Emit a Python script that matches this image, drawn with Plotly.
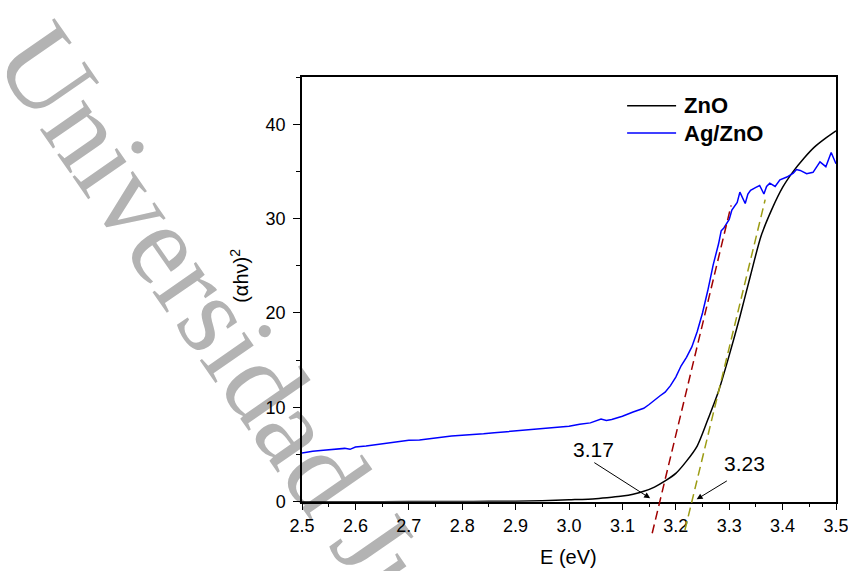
import plotly.graph_objects as go

# ---------------------------------------------------------------- data
# Photon energy (eV) and (alpha*h*nu)^2 for pure ZnO
E_ZNO = [2.50, 2.60, 2.70, 2.80, 2.85, 2.90, 2.95, 3.00, 3.05, 3.08, 3.10,
         3.12, 3.14, 3.16, 3.18, 3.20, 3.22, 3.24, 3.26, 3.28, 3.30, 3.32,
         3.34, 3.36, 3.38, 3.40, 3.42, 3.44, 3.46, 3.48, 3.50]
A_ZNO = [0.00, 0.00, 0.01, 0.02, 0.04, 0.06, 0.10, 0.20, 0.32, 0.47, 0.60,
         0.80, 1.10, 1.55, 2.20, 3.00, 4.30, 5.90, 8.70, 11.7, 15.5, 19.6,
         24.0, 28.2, 31.0, 33.3, 35.0, 36.4, 37.6, 38.5, 39.3]

# Photon energy (eV) and (alpha*h*nu)^2 for Ag/ZnO
E_AG = [2.50, 2.52, 2.54, 2.56, 2.58, 2.59, 2.60, 2.62, 2.64, 2.66, 2.68,
        2.70, 2.72, 2.74, 2.76, 2.78, 2.80, 2.82, 2.84, 2.86, 2.88, 2.90,
        2.92, 2.94, 2.96, 2.98, 3.00, 3.02, 3.04, 3.06, 3.07, 3.08, 3.09,
        3.10, 3.12, 3.14, 3.15, 3.16, 3.17, 3.18, 3.19, 3.20, 3.21, 3.22,
        3.23, 3.24, 3.25, 3.26, 3.27, 3.28, 3.285, 3.29, 3.30, 3.305, 3.31,
        3.315, 3.32, 3.325, 3.33, 3.335, 3.34, 3.35, 3.357, 3.365, 3.37,
        3.376, 3.386, 3.395, 3.408, 3.42, 3.426, 3.433, 3.445, 3.457, 3.47,
        3.481, 3.491, 3.50]
A_AG = [5.15, 5.35, 5.45, 5.55, 5.65, 5.55, 5.80, 5.90, 6.05, 6.15, 6.35,
        6.50, 6.55, 6.70, 6.80, 6.95, 7.05, 7.10, 7.20, 7.30, 7.40, 7.50,
        7.60, 7.75, 7.80, 7.90, 8.00, 8.20, 8.35, 8.75, 8.60, 8.70, 8.85,
        9.05, 9.50, 9.90, 10.3, 10.8, 11.2, 11.6, 12.3, 13.2, 14.4, 15.3,
        16.4, 18.0, 20.0, 22.4, 25.1, 27.3, 28.7, 29.0, 29.9, 30.9, 31.3,
        31.7, 32.8, 32.2, 31.6, 32.6, 33.0, 33.3, 33.5, 32.6, 33.4,
        33.75, 33.4, 34.1, 34.4, 34.8, 35.2, 35.1, 34.75, 34.9, 36.0,
        35.5, 37.0, 35.8]

# Tauc extrapolation: band gap (x-intercept), slope and vertical extent
BAND_GAP = [3.17, 3.23]
TANGENT_SLOPE = [235.0, 233.0]
TANGENT_Y = [(-3.34, 31.4), (-3.0, 32.0)]

SERIES_NAMES = ["ZnO", "Ag/ZnO"]
X_TICKS = [2.5, 2.6, 2.7, 2.8, 2.9, 3.0, 3.1, 3.2, 3.3, 3.4, 3.5]
Y_TICKS = [0, 10, 20, 30, 40]

# ---------------------------------------------------------------- layout
W, H = 848, 571
ML, MR, MT, MB = 301.7, 12, 77, 20
Y0_PX = 501.7                      # pixel row of the E axis
Y_MAX = 45
PLOT_H = H - MT - MB
PLOT_W = W - ML - MR
dom_bottom = (H - MB - Y0_PX) / PLOT_H
# lower bound of the helper axis that lets the tangents run below E axis
y2_min = -Y_MAX * (H - MB - Y0_PX) / (Y0_PX - MT)

FONT = "Liberation Sans, Arial, sans-serif"
COLORS = ["#000000", "#0000ff"]
TANGENT_COLORS = ["#a00000", "#9c9c14"]


def px_to_paper(px, py):
    return (px - ML) / PLOT_W, (H - MB - py) / PLOT_H


fig = go.Figure()

fig.add_trace(go.Scatter(
    x=E_ZNO, y=A_ZNO, mode="lines", name=SERIES_NAMES[0],
    line=dict(color=COLORS[0], width=1.5, shape="spline", smoothing=0.8),
    xaxis="x", yaxis="y", showlegend=False))
fig.add_trace(go.Scatter(
    x=E_AG, y=A_AG, mode="lines", name=SERIES_NAMES[1],
    line=dict(color=COLORS[1], width=1.5),
    xaxis="x", yaxis="y", showlegend=False))

for eg, k, (ya, yb), col in zip(BAND_GAP, TANGENT_SLOPE, TANGENT_Y,
                                TANGENT_COLORS):
    fig.add_trace(go.Scatter(
        x=[eg + ya / k, eg + yb / k], y=[ya, yb], mode="lines",
        line=dict(color=col, width=1.5, dash="9px,5px"),
        xaxis="x", yaxis="y2", showlegend=False, hoverinfo="skip"))

axis_common = dict(
    showline=True, linecolor="black", linewidth=1.5, mirror=True,
    ticks="outside", ticklen=7, tickwidth=1.3, tickcolor="black",
    showgrid=False, zeroline=False, automargin=False,
    ticklabeloverflow="allow",
    tickfont=dict(family=FONT, size=18, color="black"),
)

fig.update_layout(
    width=W, height=H,
    margin=dict(l=ML, r=MR, t=MT, b=MB, pad=0),
    paper_bgcolor="white", plot_bgcolor="rgba(0,0,0,0)",
    showlegend=False,
    font=dict(family=FONT, color="black"),
    xaxis=dict(
        axis_common, range=[2.5, 3.5], domain=[0, 1], anchor="y",
        tickvals=X_TICKS, tickformat=".1f",
        minor=dict(dtick=0.05, tick0=2.5, ticks="outside", ticklen=4,
                   tickwidth=1.3, tickcolor="black"),
    ),
    yaxis=dict(
        axis_common, range=[0, Y_MAX], domain=[dom_bottom, 1], anchor="x",
        tickvals=Y_TICKS, ticklabelstandoff=4,
        minor=dict(dtick=5, tick0=0, ticks="outside", ticklen=4,
                   tickwidth=1.3, tickcolor="black"),
    ),
    yaxis2=dict(range=[y2_min, Y_MAX], domain=[0, 1], anchor="x",
                visible=False, showgrid=False, zeroline=False),
)

# axis titles
tx, ty = px_to_paper(568.5, 557)
fig.add_annotation(
    x=tx, y=ty, xref="paper", yref="paper", showarrow=False,
    xanchor="center", yanchor="middle", text="E (eV)",
    font=dict(family=FONT, size=20, color="black"))
tx, ty = px_to_paper(238.5, 276)
fig.add_annotation(
    x=tx, y=ty, xref="paper", yref="paper", showarrow=False,
    xanchor="center", yanchor="middle",
    text="(\u03b1h\u03bd)<sup>2</sup>", textangle=-90,
    font=dict(family=FONT, size=20, color="black"))

# band-gap labels with arrows pointing at the intercepts
ARROW_HEAD = [(3.152, 0.36), (3.239, 0.25)]
ARROW_TAIL = [(3.0446, 4.24), (3.2984, 2.30)]
LABEL_POS = [(3.045, 5.48), (3.329, 4.02)]
for eg, (hx, hy), (tx_, ty_), (lx, ly) in zip(BAND_GAP, ARROW_HEAD,
                                              ARROW_TAIL, LABEL_POS):
    fig.add_annotation(
        x=hx, y=hy, ax=tx_, ay=ty_, xref="x", yref="y", axref="x", ayref="y",
        text="", showarrow=True, arrowhead=2, arrowsize=1.2, arrowwidth=1,
        arrowcolor="black", standoff=0, startstandoff=0)
    fig.add_annotation(
        x=lx, y=ly, xref="x", yref="y", showarrow=False,
        xanchor="center", yanchor="middle",
        text=f"{eg:.2f}", font=dict(family=FONT, size=21, color="black"))

# legend drawn as sample lines with bold labels
for name, col, row in zip(SERIES_NAMES, COLORS, [105.7, 133.0]):
    x0, yy = px_to_paper(627, row)
    x1, _ = px_to_paper(676, row)
    xt, _ = px_to_paper(683, row)
    fig.add_shape(type="line", xref="paper", yref="paper",
                  x0=x0, x1=x1, y0=yy, y1=yy,
                  line=dict(color=col, width=1.5))
    fig.add_annotation(
        x=xt, y=yy, xref="paper", yref="paper", showarrow=False,
        xanchor="left", yanchor="middle", text=f"<b>{name}</b>",
        borderpad=0, font=dict(family=FONT, size=22, color="black"))

# diagonal watermark behind the plot
cx, cy = px_to_paper(285, 393.4)
fig.add_shape(
    type="rect", xref="paper", yref="paper", layer="below",
    x0=cx - 0.005, x1=cx + 0.005, y0=cy - 0.005, y1=cy + 0.005,
    line=dict(width=0), fillcolor="rgba(0,0,0,0)",
    label=dict(text="Universidad Ju\u00e1rez", textangle=55.3,
               textposition="middle center",
               font=dict(family="Liberation Serif, serif", size=115,
                         color="#b3b3b3")))

fig.write_html("out.html")
